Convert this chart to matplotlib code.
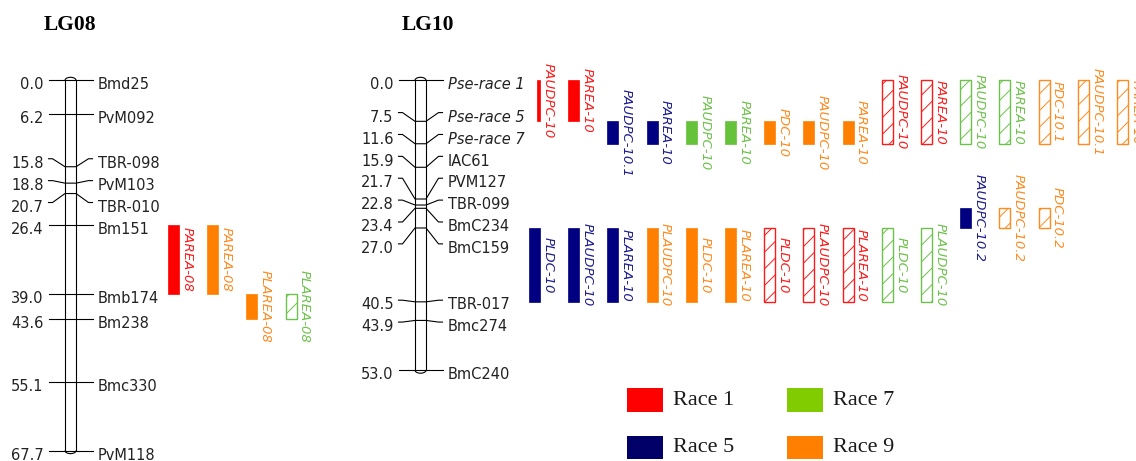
import matplotlib
matplotlib.use("Agg")
import matplotlib.pyplot as plt
from matplotlib.patches import Rectangle, Arc

# ---- linkage groups (cM positions and marker names)
lg08_pos = [0.0, 6.2, 15.8, 18.8, 20.7, 26.4, 39.0, 43.6, 55.1, 67.7]
lg08_markers = ["Bmd25", "PvM092", "TBR-098", "PvM103", "TBR-010", "Bm151",
                "Bmb174", "Bm238", "Bmc330", "PvM118"]

lg10_pos = [0.0, 7.5, 11.6, 15.9, 21.7, 22.8, 23.4, 27.0, 40.5, 43.9, 53.0]
lg10_markers = ["Pse-race 1", "Pse-race 5", "Pse-race 7", "IAC61", "PVM127",
                "TBR-099", "BmC234", "BmC159", "TBR-017", "Bmc274", "BmC240"]

# ---- QTL intervals
lg08_qtl = ["PAREA-08", "PAREA-08", "PLAREA-08", "PLAREA-08"]
lg08_race = [1, 9, 9, 7]
lg08_env = ["solid", "solid", "solid", "hatch"]
lg08_start = [26.4, 26.4, 39.0, 39.0]
lg08_end = [39.0, 39.0, 43.6, 43.6]
lg08_col = [0, 1, 2, 3]

lg10_qtl = ["PAUDPC-10", "PAREA-10", "PAUDPC-10.1", "PAREA-10", "PAUDPC-10",
            "PAREA-10", "PDC-10", "PAUDPC-10", "PAREA-10", "PAUDPC-10",
            "PAREA-10", "PAUDPC-10", "PAREA-10", "PDC-10.1", "PAUDPC-10.1",
            "PAREA-10",
            "PAUDPC-10.2", "PAUDPC-10.2", "PDC-10.2",
            "PLDC-10", "PLAUDPC-10", "PLAREA-10", "PLAUDPC-10", "PLDC-10",
            "PLAREA-10", "PLDC-10", "PLAUDPC-10", "PLAREA-10", "PLDC-10",
            "PLAUDPC-10"]
lg10_race = [1, 1, 5, 5, 7, 7, 9, 9, 9, 1, 1, 7, 7, 9, 9, 9,
             5, 9, 9,
             5, 5, 5, 9, 9, 9, 1, 1, 1, 7, 7]
lg10_env = ["solid", "solid", "solid", "solid", "solid", "solid", "solid",
            "solid", "solid", "hatch", "hatch", "hatch", "hatch", "hatch",
            "hatch", "hatch",
            "solid", "hatch", "hatch",
            "solid", "solid", "solid", "solid", "solid", "solid", "hatch",
            "hatch", "hatch", "hatch", "hatch"]
lg10_start = [0.0, 0.0, 7.5, 7.5, 7.5, 7.5, 7.5, 7.5, 7.5, 0.0, 0.0, 0.0,
              0.0, 0.0, 0.0, 0.0,
              23.4, 23.4, 23.4,
              27.0, 27.0, 27.0, 27.0, 27.0, 27.0, 27.0, 27.0, 27.0, 27.0, 27.0]
lg10_end = [7.5, 7.5, 11.6, 11.6, 11.6, 11.6, 11.6, 11.6, 11.6, 11.6, 11.6,
            11.6, 11.6, 11.6, 11.6, 11.6,
            27.0, 27.0, 27.0,
            40.5, 40.5, 40.5, 40.5, 40.5, 40.5, 40.5, 40.5, 40.5, 40.5, 40.5]
lg10_col = [0, 1, 2, 3, 4, 5, 6, 7, 8, 9, 10, 11, 12, 13, 14, 15,
            11, 12, 13,
            0, 1, 2, 3, 4, 5, 6, 7, 8, 9, 10]

races = [1, 5, 7, 9]
race_labels = ["Race 1", "Race 5", "Race 7", "Race 9"]

# ---- styles
fill_c = {1: "#FF0000", 5: "#000080", 7: "#66C23A", 9: "#FF8000"}
text_c = {1: "#FF1A1A", 5: "#1C1C8C", 7: "#6CC24A", 9: "#FF8A1E"}
legend_c = {1: "#FF0000", 5: "#000066", 7: "#80CC00", 9: "#FF7F00"}

W, H = 1136, 461
Y0, SCALE = 80.3, 5.47          # pixel row of 0 cM, pixels per cM
CW = 11                          # chromosome width (px)
BAR_W, STEP = 11, 39.2
LW = 0.8
plt.rcParams['hatch.linewidth'] = 0.7


def px2cm(py):
    return (py - Y0) / SCALE


def centre(g):
    # between the mean and the middle of the range
    return (sum(g) / len(g) + (min(g) + max(g)) / 2) / 2


def spread(pos, gap):
    groups = [[p] for p in pos]
    changed = True
    while changed:
        changed = False
        for i in range(len(groups) - 1):
            a, b = groups[i], groups[i + 1]
            a_end = centre(a) + (len(a) - 1) / 2 * gap
            b_start = centre(b) - (len(b) - 1) / 2 * gap
            if b_start - a_end < gap - 1e-9:
                groups[i] = a + b
                del groups[i + 1]
                changed = True
                break
    out = []
    for g in groups:
        m = centre(g)
        out += [m + (k - (len(g) - 1) / 2) * gap for k in range(len(g))]
    return out


def draw_group(ax, cx, pos, names, title, title_x):
    top, bot = pos[0], pos[-1]
    cap = 3 / SCALE
    for xe in (cx - CW / 2, cx + CW / 2):
        ax.plot([xe, xe], [top, bot], color="k", lw=LW)
    ax.add_patch(Arc((cx, top), CW, 2 * cap, theta1=180, theta2=360, color="k", lw=LW))
    ax.add_patch(Arc((cx, bot), CW, 2 * cap, theta1=0, theta2=180, color="k", lw=LW))
    labs = spread(pos, 4.0)
    for p, ly, name in zip(pos, labs, names):
        ax.plot([cx - 22, cx - 18, cx - CW / 2, cx + CW / 2, cx + 18, cx + 22],
                [ly, ly, p, p, ly, ly], color="k", lw=LW)
        ty = ly + 0.85
        ax.text(cx - 27, ty, f"{p:.1f}", ha="right", va="center",
                fontsize=10.5, color="#222222")
        ax.text(cx + 27, ty, name, ha="left", va="center", fontsize=10.5,
                color="#222222",
                style="italic" if name.startswith("Pse") else "normal")
    ax.text(title_x, px2cm(25), title, ha="center", va="center",
            fontsize=15.5, fontweight="bold", family="Liberation Serif")


def draw_qtl(ax, x0, names, rc, env, st, en, cols, thin=()):
    for i in range(len(names)):
        left = x0 + cols[i] * STEP
        w = BAR_W
        if i in thin:
            left += BAR_W - 3.5
            w = 3.5
        r = rc[i]
        if env[i] == "solid":
            ax.add_patch(Rectangle((left, st[i]), w, en[i] - st[i],
                                   facecolor=fill_c[r], edgecolor=fill_c[r], lw=0.5))
        else:
            ax.add_patch(Rectangle((left, st[i]), w, en[i] - st[i],
                                   facecolor="white", edgecolor=text_c[r],
                                   hatch="//", lw=1.0))
        ax.text(x0 + cols[i] * STEP + 19, (st[i] + en[i]) / 2, names[i],
                rotation=-90, ha="center", va="center", style="italic",
                fontsize=9.5, color=text_c[r])


fig = plt.figure(figsize=(W / 100, H / 100), dpi=100)
ax = fig.add_axes([0, 0, 1, 1])
ax.set_xlim(0, W)
ax.set_ylim(px2cm(H), px2cm(0))
ax.axis("off")

draw_group(ax, 70.5, lg08_pos, lg08_markers, "LG08", 70)
draw_group(ax, 420.5, lg10_pos, lg10_markers, "LG10", 428)

draw_qtl(ax, 168, lg08_qtl, lg08_race, lg08_env, lg08_start, lg08_end, lg08_col)
draw_qtl(ax, 529, lg10_qtl, lg10_race, lg10_env, lg10_start, lg10_end, lg10_col,
         thin=(0,))

# legend, 2 x 2 grid
for k, (r, lab) in enumerate(zip(races, race_labels)):
    bx = 627 + (k // 2) * 160
    by = 388 + (k % 2) * 47.5
    ax.add_patch(Rectangle((bx / W, 1 - (by + 23.5) / H), 35.5 / W, 23.5 / H,
                           transform=ax.transAxes, facecolor=legend_c[r],
                           edgecolor="none"))
    ax.text((bx + 46) / W, 1 - (by + 12) / H, lab, transform=ax.transAxes,
            ha="left", va="center", fontsize=16, family="Liberation Serif",
            color="#1a1a1a")

fig.savefig("out.png", dpi=100)
